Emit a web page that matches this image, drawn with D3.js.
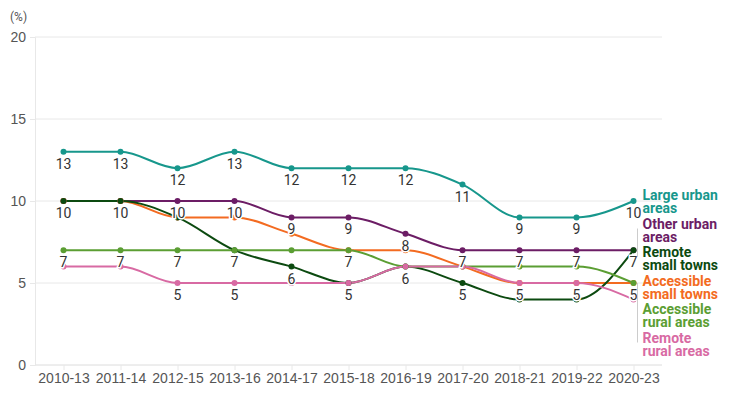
<!DOCTYPE html>
<html>
<head>
<meta charset="utf-8">
<script src="https://cdn.jsdelivr.net/npm/d3@7"></script>
<style>
  body { margin: 0; background: #fff; }
  svg { font-family: Roboto, "Open Sans", sans-serif; }
</style>
</head>
<body>
<div id="chart"></div>
<script>
// Data: percentage by 3-year period
const periods = ["2010-13", "2011-14", "2012-15", "2013-16", "2014-17", "2015-18",
                 "2016-19", "2017-20", "2018-21", "2019-22", "2020-23"];
const largeUrban = [13, 13, 12, 13, 12, 12, 12, 11, 9, 9, 10];
const otherUrban = [10, 10, 10, 10, 9, 9, 8, 7, 7, 7, 7];
const accessibleSmallTowns = [10, 10, 9, 9, 8, 7, 7, 6, 5, 5, 5];
const remoteSmallTowns = [10, 10, 9, 7, 6, 5, 6, 5, 4, 4, 7];
const accessibleRural = [7, 7, 7, 7, 7, 7, 6, 6, 6, 6, 5];
const remoteRural = [6, 6, 5, 5, 5, 5, 6, 6, 5, 5, 4];
const yTicks = [0, 5, 10, 15, 20];

const series = [
  { name: ["Large urban", "areas"], values: largeUrban, color: "#17978c" },
  { name: ["Other urban", "areas"], values: otherUrban, color: "#6c1d65" },
  { name: ["Accessible", "small towns"], values: accessibleSmallTowns, color: "#f36b21" },
  { name: ["Remote", "small towns"], values: remoteSmallTowns, color: "#0c4a10" },
  { name: ["Accessible", "rural areas"], values: accessibleRural, color: "#5b9e33" },
  { name: ["Remote", "rural areas"], values: remoteRural, color: "#d86aa3" }
];

const W = 752, H = 418;
const margin = { top: 37, right: 90, bottom: 53, left: 35 };

const svg = d3.select("#chart").append("svg")
    .attr("width", W)
    .attr("height", H);

const x = d3.scalePoint().domain(periods).range([margin.left, W - margin.right]).padding(0.5);
const y = d3.scaleLinear().domain([0, 20]).range([H - margin.bottom, margin.top]);

// Gridlines
svg.append("g")
  .selectAll("line")
  .data(yTicks)
  .join("line")
    .attr("x1", margin.left)
    .attr("x2", W - margin.right)
    .attr("y1", d => y(d))
    .attr("y2", d => y(d))
    .attr("stroke", "#e8e8e8");

// Y axis
const yAxis = svg.append("g")
    .attr("transform", `translate(${margin.left},0)`)
    .call(d3.axisLeft(y).tickValues(yTicks).tickSize(5).tickPadding(4));
yAxis.select(".domain").attr("stroke", "#e8e8e8");
yAxis.selectAll(".tick line").attr("stroke", "#e8e8e8");
yAxis.selectAll(".tick text").attr("fill", "#555").style("font-size", "14px");

svg.append("text")
    .attr("x", 10)
    .attr("y", 21)
    .attr("fill", "#555")
    .style("font-size", "12px")
    .text("(%)");

// X axis
const xAxis = svg.append("g")
    .attr("transform", `translate(0,${y(0)})`)
    .call(d3.axisBottom(x).tickSize(5).tickPadding(3).tickSizeOuter(0));
xAxis.select(".domain").attr("stroke", "#e8e8e8").attr("d", `M${margin.left},0H${W - margin.right}`);
xAxis.selectAll(".tick line").attr("stroke", "#e8e8e8");
xAxis.selectAll(".tick text").attr("fill", "#555").style("font-size", "14px");

// Lines
const line = d3.line()
    .x((d, i) => x(periods[i]))
    .y(d => y(d))
    .curve(d3.curveMonotoneX);

svg.append("g")
  .selectAll("path")
  .data(series)
  .join("path")
    .attr("d", d => line(d.values))
    .attr("fill", "none")
    .attr("stroke", d => d.color)
    .attr("stroke-width", 2);

// Points
series.forEach(s => {
  svg.append("g")
    .selectAll("circle")
    .data(s.values)
    .join("circle")
      .attr("cx", (d, i) => x(periods[i]))
      .attr("cy", d => y(d))
      .attr("r", 3)
      .attr("fill", s.color);
});

// Value labels below points, skip ones that collide with a label already placed
const placed = periods.map(() => []);
const labels = [];
series.forEach(s => {
  s.values.forEach((v, i) => {
    const ly = y(v) + 12;
    if (placed[i].some(py => Math.abs(py - ly) < 20)) return;
    placed[i].push(ly);
    labels.push({ x: x(periods[i]), y: ly, v: v });
  });
});

svg.append("g")
  .selectAll("text")
  .data(labels)
  .join("text")
    .attr("x", d => d.x)
    .attr("y", d => d.y)
    .attr("dy", "0.35em")
    .attr("text-anchor", "middle")
    .attr("fill", "#333")
    .attr("stroke", "#fff")
    .attr("stroke-width", 3)
    .attr("paint-order", "stroke")
    .style("font-size", "14px")
    .text(d => d.v);

// End labels, dodged vertically
const last = periods.length - 1;
const endX = x(periods[last]);
const gap = 28.5;
const ends = series.map(s => ({ s: s, target: y(s.values[last]) }))
  .sort((a, b) => a.target - b.target);

// forward pass: group overlapping labels into clusters centred on their targets
const clusters = [];
function layout(c) {
  const mean = d3.mean(c.items, e => e.target);
  c.top = mean - (c.items.length - 1) * gap / 2;
  c.bottom = c.top + (c.items.length - 1) * gap;
}
ends.forEach(e => {
  const c = clusters[clusters.length - 1];
  if (c && e.target - c.bottom < gap) {
    c.items.push(e);
    layout(c);
  } else {
    const nc = { items: [e] };
    layout(nc);
    clusters.push(nc);
  }
});
// then push down whatever still overlaps
let prev = -Infinity;
clusters.forEach(c => c.items.forEach((e, k) => {
  e.ly = Math.max(c.top + k * gap, prev + gap);
  prev = e.ly;
}));

// leader lines
svg.append("g")
  .selectAll("line")
  .data(ends.filter(e => Math.abs(e.ly - e.target) > 3))
  .join("line")
    .attr("x1", endX + 4)
    .attr("x2", endX + 4)
    .attr("y1", d => d.ly - 1)
    .attr("y2", d => d.target)
    .attr("stroke", "#ccc");

const endLabels = svg.append("g")
  .selectAll("text")
  .data(ends)
  .join("text")
    .attr("fill", d => d.s.color)
    .style("font-size", "14px")
    .style("font-weight", 700);

endLabels.selectAll("tspan")
  .data(d => d.s.name.map((t, k) => ({ t: t, k: k, ly: d.ly })))
  .join("tspan")
    .attr("x", endX + 9)
    .attr("y", d => d.ly - 1 + d.k * 13)
    .text(d => d.t);
</script>
</body>
</html>
